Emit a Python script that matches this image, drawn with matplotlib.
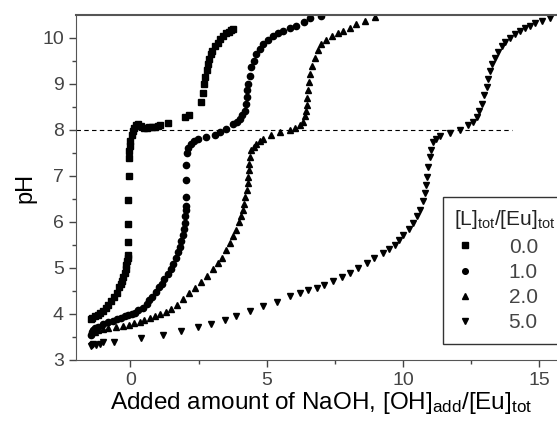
import numpy as np
import matplotlib
matplotlib.use('Agg')
import matplotlib.pyplot as plt

plt.rcParams['font.family'] = ['Liberation Sans', 'DejaVu Sans']
plt.rcParams['mathtext.default'] = 'regular'

# (x, pH)
s00 = [(-1.45, 3.9), (-1.4, 3.92), (-1.3, 3.95), (-1.2, 3.98), (-1.1, 4.02), (-1.0, 4.06),
       (-0.9, 4.12), (-0.8, 4.2), (-0.7, 4.28), (-0.6, 4.36), (-0.5, 4.46), (-0.4, 4.58),
       (-0.35, 4.65), (-0.3, 4.72), (-0.25, 4.8), (-0.2, 4.9), (-0.17, 4.98), (-0.14, 5.06),
       (-0.12, 5.15), (-0.1, 5.22), (-0.09, 5.29), (-0.08, 5.57), (-0.07, 5.96), (-0.07, 6.48),
       (-0.06, 7.0), (-0.05, 7.39), (-0.04, 7.55), (-0.02, 7.65), (0.0, 7.75), (0.05, 7.88),
       (0.1, 7.98), (0.15, 8.05), (0.2, 8.1), (0.3, 8.12), (0.4, 8.08), (0.5, 8.05),
       (0.6, 8.05), (0.7, 8.06), (0.8, 8.07), (0.9, 8.07), (1.0, 8.08), (1.1, 8.1),
       (1.4, 8.16), (2.0, 8.28), (2.15, 8.32), (2.6, 8.6), (2.65, 8.8), (2.7, 9.0),
       (2.75, 9.15), (2.8, 9.3), (2.85, 9.43), (2.9, 9.55), (2.95, 9.65), (3.0, 9.72),
       (3.1, 9.82), (3.2, 9.9), (3.3, 9.98), (3.4, 10.04), (3.5, 10.1), (3.6, 10.14),
       (3.7, 10.17), (3.77, 10.19)]
s10 = [(-1.45, 3.55), (-1.4, 3.6), (-1.35, 3.65), (-1.3, 3.7), (-1.2, 3.72), (-1.0, 3.78),
       (-0.8, 3.82), (-0.64, 3.85), (-0.5, 3.88), (-0.33, 3.92), (-0.2, 3.95), (-0.09, 3.97),
       (0.05, 4.0), (0.16, 4.03), (0.3, 4.08), (0.46, 4.14), (0.6, 4.22), (0.7, 4.3),
       (0.8, 4.37), (0.95, 4.48), (1.05, 4.58), (1.15, 4.66), (1.25, 4.75), (1.38, 4.86),
       (1.48, 4.97), (1.58, 5.08), (1.69, 5.22), (1.76, 5.35), (1.82, 5.46), (1.87, 5.58),
       (1.92, 5.72), (1.96, 5.85), (1.99, 5.98), (2.02, 6.12), (2.05, 6.25), (2.05, 6.34),
       (2.05, 6.55), (2.05, 6.91), (2.06, 7.24), (2.08, 7.49), (2.12, 7.6), (2.24, 7.7),
       (2.35, 7.76), (2.48, 7.81), (2.79, 7.85), (3.09, 7.9), (3.3, 7.96), (3.52, 8.03),
       (3.77, 8.14), (3.9, 8.18), (4.01, 8.24), (4.1, 8.32), (4.19, 8.42), (4.23, 8.56),
       (4.26, 8.71), (4.29, 8.86), (4.32, 9.0), (4.38, 9.18), (4.44, 9.36), (4.52, 9.5),
       (4.62, 9.65), (4.74, 9.76), (4.87, 9.86), (5.05, 9.96), (5.23, 10.04), (5.4, 10.1),
       (5.6, 10.15), (5.85, 10.21), (6.09, 10.26), (6.35, 10.35), (6.58, 10.44), (7.0, 10.47)]
s20 = [(-1.45, 3.58), (-1.4, 3.62), (-1.3, 3.6), (-1.2, 3.65), (-1.0, 3.68), (-0.8, 3.7),
       (-0.51, 3.71), (-0.25, 3.74), (-0.03, 3.76), (0.15, 3.8), (0.34, 3.83), (0.52, 3.87),
       (0.71, 3.92), (0.9, 3.96), (1.08, 4.0), (1.3, 4.05), (1.5, 4.1), (1.7, 4.2),
       (1.93, 4.32), (2.15, 4.45), (2.36, 4.57), (2.6, 4.7), (2.8, 4.83), (3.03, 4.97),
       (3.2, 5.1), (3.35, 5.22), (3.52, 5.4), (3.65, 5.55), (3.78, 5.7), (3.89, 5.83),
       (3.98, 6.0), (4.06, 6.13), (4.13, 6.26), (4.18, 6.4), (4.22, 6.55), (4.26, 6.7),
       (4.3, 6.85), (4.32, 6.98), (4.34, 7.12), (4.34, 7.27), (4.38, 7.42), (4.44, 7.56),
       (4.52, 7.64), (4.62, 7.7), (4.75, 7.76), (4.87, 7.81), (5.17, 7.88), (5.48, 7.95),
       (5.85, 7.99), (6.05, 8.04), (6.21, 8.1), (6.33, 8.18), (6.4, 8.3), (6.44, 8.42),
       (6.46, 8.55), (6.48, 8.7), (6.5, 8.86), (6.54, 9.04), (6.58, 9.22), (6.66, 9.4),
       (6.76, 9.57), (6.88, 9.73), (7.0, 9.86), (7.18, 9.96), (7.38, 10.04), (7.6, 10.1),
       (7.8, 10.15), (8.05, 10.22), (8.29, 10.3), (8.6, 10.38), (8.97, 10.45)]
s50 = [(-1.45, 3.3), (-1.4, 3.33), (-1.35, 3.35), (-1.25, 3.32), (-1.1, 3.34), (-1.0, 3.38),
       (-0.58, 3.38), (0.4, 3.47), (1.2, 3.55), (1.87, 3.62), (2.48, 3.71), (2.97, 3.78),
       (3.46, 3.87), (3.89, 3.96), (4.38, 4.07), (4.87, 4.18), (5.36, 4.26), (5.85, 4.38),
       (6.21, 4.46), (6.5, 4.52), (6.83, 4.57), (7.1, 4.63), (7.43, 4.71), (7.75, 4.8),
       (8.05, 4.9), (8.35, 5.0), (8.66, 5.11), (8.95, 5.22), (9.27, 5.33), (9.5, 5.42),
       (9.7, 5.51), (9.85, 5.61), (10.0, 5.72), (10.2, 5.85), (10.37, 5.98), (10.5, 6.12),
       (10.62, 6.26), (10.72, 6.45), (10.8, 6.62), (10.85, 6.8), (10.88, 6.98), (10.92, 7.2),
       (10.98, 7.41), (11.02, 7.56), (11.1, 7.74), (11.2, 7.81), (11.35, 7.86), (11.72, 7.93),
       (12.08, 8.0), (12.39, 8.1), (12.55, 8.18), (12.7, 8.28), (12.8, 8.42), (12.88, 8.57),
       (12.97, 8.75), (13.06, 8.93), (13.12, 9.1), (13.19, 9.29), (13.27, 9.43), (13.37, 9.57),
       (13.48, 9.7), (13.61, 9.83), (13.75, 9.92), (13.92, 10.0), (14.1, 10.08), (14.29, 10.15),
       (14.47, 10.21), (14.65, 10.26), (14.85, 10.32), (15.08, 10.37), (15.39, 10.43)]

ratios = ['0.0', '1.0', '2.0', '5.0']
markers = ['s', 'o', '^', 'v']

fig = plt.figure(figsize=(5.57, 4.22), dpi=100)
ax = fig.add_axes([0.136, 0.147, 0.8815, 0.8175])

for s, lab, m in zip([s00, s10, s20, s50], ratios, markers):
    d = np.array(s)
    ax.plot(d[:, 0], d[:, 1], linestyle='none', marker=m, markersize=4.5,
            color='black', label=lab)

ax.plot([-2, 14], [8, 8], color='black', linestyle='--', linewidth=0.8, dashes=(4, 3))

ax.set_xlim(-2, 16)
ax.set_ylim(3, 10.5)
ax.set_xticks([0, 5, 10, 15])
ax.set_xticks([2.5, 7.5, 12.5], minor=True)
ax.set_yticks([3, 4, 5, 6, 7, 8, 9, 10])
ax.set_yticks(np.arange(3.5, 10.5, 1.0), minor=True)
ax.tick_params(which='both', direction='out', colors='#444444', labelsize=14,
               top=False, right=False)
ax.tick_params(which='major', length=5, width=1)
ax.tick_params(which='minor', length=3, width=1)
for sp in ['left', 'bottom', 'top']:
    ax.spines[sp].set_color('#555555')
ax.spines['top'].set_linewidth(1.5)
ax.spines['right'].set_visible(False)

ax.set_xlabel('Added amount of NaOH, [OH]$_{add}$/[Eu]$_{tot}$', fontsize=17.5, labelpad=1)
ax.set_ylabel('pH', fontsize=17, labelpad=4)

leg = ax.legend(title='[L]$_{tot}$/[Eu]$_{tot}$', loc='upper left',
                bbox_to_anchor=(443 / 557, 225 / 422), bbox_transform=fig.transFigure,
                borderaxespad=0, fontsize=15, title_fontsize=15, frameon=True,
                fancybox=False, edgecolor='black', handletextpad=1.6,
                labelspacing=0.3, borderpad=0.55, handlelength=1.0, markerscale=0.9)
leg.get_frame().set_linewidth(1.0)
leg._legend_box.align = 'left'
for t in leg.get_texts():
    t.set_color('#444444')
leg.get_title().set_color('#222222')

plt.savefig('out.png', dpi=100)
